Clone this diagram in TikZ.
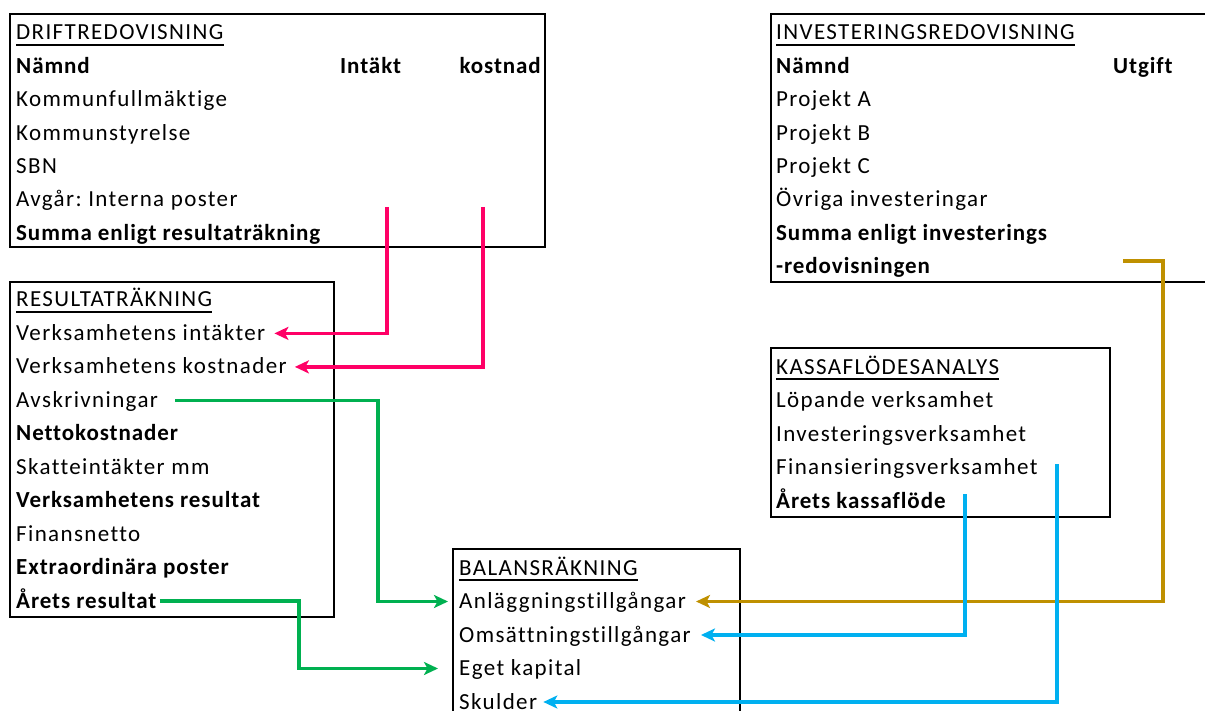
\documentclass[tikz,border=0pt]{standalone}
\usepackage{fontspec}
\setmainfont{Carlito}[LetterSpace=6, Ligatures=NoCommon, BoldFeatures={LetterSpace=4}]
\usetikzlibrary{arrows.meta}
\definecolor{pinkc}{RGB}{255,0,102}
\definecolor{greenc}{RGB}{0,176,80}
\definecolor{goldc}{RGB}{191,144,0}
\definecolor{bluec}{RGB}{0,176,240}
\frenchspacing
\begin{document}
\begin{tikzpicture}[x=1pt,y=-1pt,
  txt/.style={anchor=west,inner sep=0pt,text height=14pt,text depth=0pt,font=\fontsize{23}{27}\selectfont},
  bold/.style={txt,font=\fontsize{23}{27}\selectfont\bfseries},
  box/.style={draw=black,line width=2.2pt},
  uline/.style={line width=1.8pt},
  conn/.style={line width=3.2pt,-{Stealth[length=14pt,width=13pt,inset=3.5pt]}}]
\useasboundingbox (0,0) rectangle (1205,711);
% boxes
\draw[box] (10,14) rectangle (545,247);
\draw[box] (771,14) rectangle (1215,282);
\draw[box] (10,282) rectangle (334,617);
\draw[box] (771,348) rectangle (1110,517);
\draw[box] (453,549) rectangle (740,725);
% DRIFTREDOVISNING
\node[txt] (d0) at (16,33) {DRIFTREDOVISNING};
\node[bold] (d1) at (16,66.4) {Nämnd};
\node[bold] (d1b) at (340,66.4) {Intäkt};
\node[bold,anchor=east] (d1c) at (541,66.4) {kostnad};
\node[txt] (d2) at (16,99.8) {Kommunfullmäktige};
\node[txt] (d3) at (16,133.2) {Kommunstyrelse};
\node[txt] (d4) at (16,166.6) {SBN};
\node[txt] (d5) at (16,200) {Avgår: Interna poster};
\node[bold] (d6) at (16,233.4) {Summa enligt resultaträkning};
% INVESTERINGSREDOVISNING
\node[txt] (i0) at (776,33) {INVESTERINGSREDOVISNING};
\node[bold] (i1) at (776,66.4) {Nämnd};
\node[bold] (i1b) at (1113,66.4) {Utgift};
\node[txt] (i2) at (776,99.8) {Projekt A};
\node[txt] (i3) at (776,133.2) {Projekt B};
\node[txt] (i4) at (776,166.6) {Projekt C};
\node[txt] (i5) at (776,200) {Övriga investeringar};
\node[bold] (i6) at (776,233.4) {Summa enligt investerings};
\node[bold] (i7) at (776,266.8) {-redovisningen};
% RESULTATRÄKNING
\node[txt] (r0) at (16,300) {RESULTATRÄKNING};
\node[txt] (r1) at (16,333.4) {Verksamhetens intäkter};
\node[txt] (r2) at (16,366.9) {Verksamhetens kostnader};
\node[txt] (r3) at (16,400.3) {Avskrivningar};
\node[bold] (r4) at (16,433.8) {Nettokostnader};
\node[txt] (r5) at (16,467.2) {Skatteintäkter mm};
\node[bold] (r6) at (16,500.7) {Verksamhetens resultat};
\node[txt] (r7) at (16,534.1) {Finansnetto};
\node[bold] (r8) at (16,567.6) {Extraordinära poster};
\node[bold] (r9) at (16,601) {Årets resultat};
% KASSAFLÖDESANALYS
\node[txt] (k0) at (776,367) {KASSAFLÖDESANALYS};
\node[txt] (k1) at (776,400.5) {Löpande verksamhet};
\node[txt] (k2) at (776,434) {Investeringsverksamhet};
\node[txt] (k3) at (776,467.5) {Finansieringsverksamhet};
\node[bold] (k4) at (776,501) {Årets kassaflöde};
% BALANSRÄKNING
\node[txt] (b0) at (459,568) {BALANSRÄKNING};
\node[txt] (b1) at (459,601.5) {Anläggningstillgångar};
\node[txt] (b2) at (459,635) {Omsättningstillgångar};
\node[txt] (b3) at (459,668.5) {Eget kapital};
\node[txt] (b4) at (459,702) {Skulder};
% underlines
\foreach \t in {d0,i0,r0,k0,b0}
  \draw[uline] ([yshift=-4.5pt]\t.south west) -- ([yshift=-4.5pt]\t.south east);
% connectors
\coordinate (p1) at (387,207);
\coordinate (p2) at (483,207);
\coordinate (g1x) at (378,500);
\coordinate (g2x) at (299,640);
\coordinate (au) at (1123,261);
\coordinate (aux) at (1163,400);
\coordinate (c1) at (965,494);
\coordinate (c2) at (1057,464);
\draw[conn,pinkc] (p1) |- ([xshift=9pt]r1.east);
\draw[conn,pinkc] (p2) |- ([xshift=8pt]r2.east);
\draw[conn,greenc] ([xshift=17pt]r3.east) -| (g1x) |- ([xshift=-11pt]b1.west);
\draw[conn,greenc] ([xshift=3pt]r9.east) -| (g2x) |- ([xshift=-21pt]b3.west);
\draw[conn,goldc] (au) -| (aux) |- ([xshift=10pt]b1.east);
\draw[conn,bluec] (c1) |- ([xshift=10pt]b2.east);
\draw[conn,bluec] (c2) |- ([xshift=6pt]b4.east);
\end{tikzpicture}
\end{document}
